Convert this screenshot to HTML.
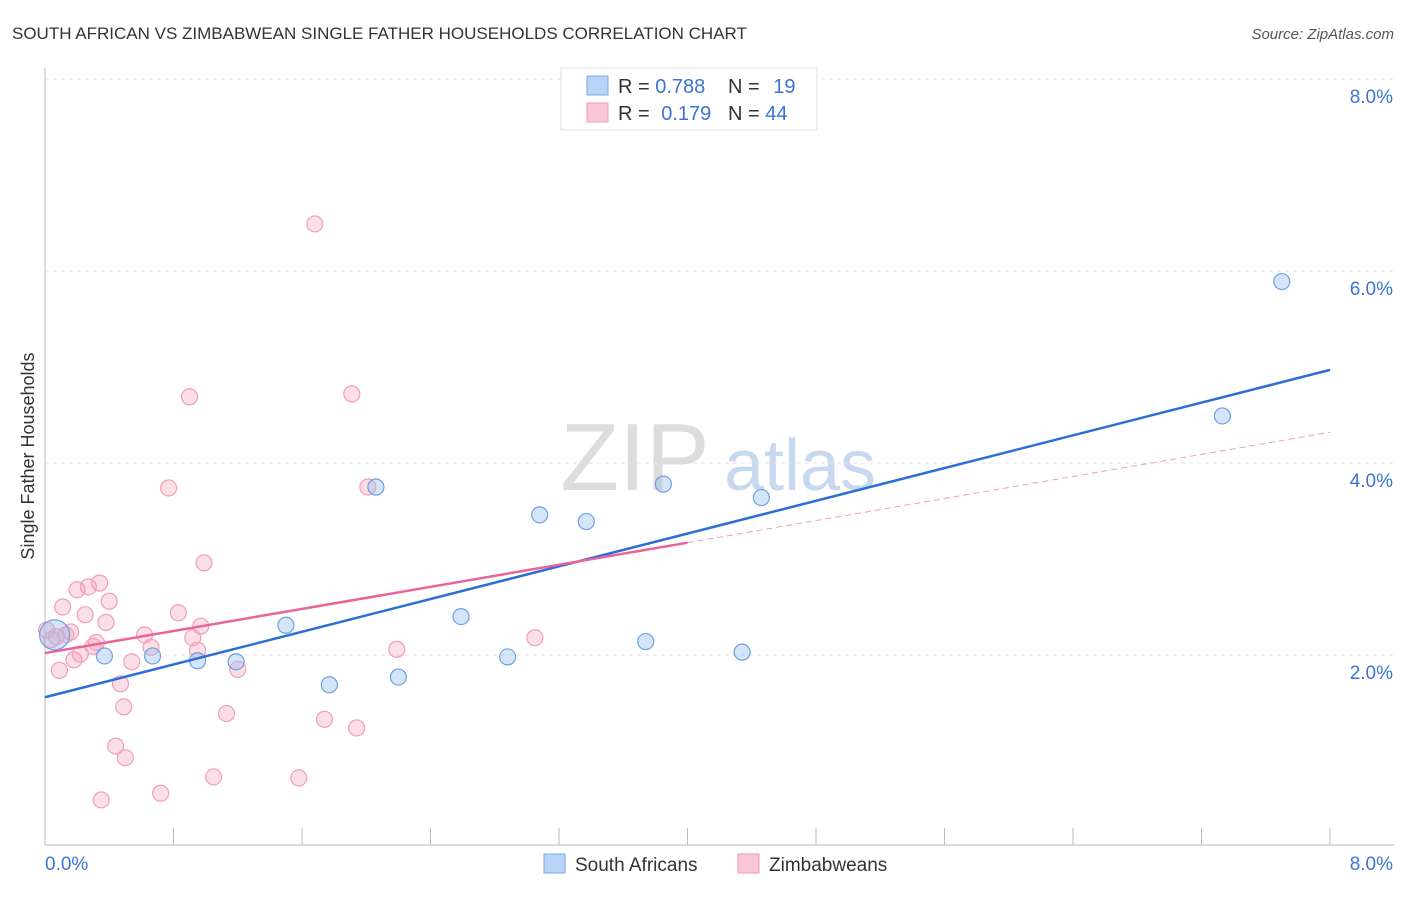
<!DOCTYPE html>
<html><head><meta charset="utf-8"><style>
body{margin:0;background:#fff;font-family:"Liberation Sans",sans-serif}
svg text{font-family:"Liberation Sans",sans-serif}
</style></head><body>
<svg id="c" width="1406" height="892">
<text x="12" y="39" font-size="17" fill="#333">SOUTH AFRICAN VS ZIMBABWEAN SINGLE FATHER HOUSEHOLDS CORRELATION CHART</text>
<text x="1394" y="39" font-size="15" fill="#555" text-anchor="end" font-style="italic">Source: ZipAtlas.com</text>
<text x="635" y="490" font-size="96" fill="#ddd" font-family="Liberation Serif" text-anchor="middle">ZIP</text>
<text x="800" y="490" font-size="72" fill="#c8d8ee" text-anchor="middle">atlas</text>
<text transform="translate(34,456) rotate(-90)" font-size="18" fill="#333" text-anchor="middle">Single Father Households</text>
<g id="grid"></g><g id="pts"></g><g id="lines"></g>
<g>
<rect x="561" y="68" width="256" height="62" fill="#fff" stroke="#ddd"/>
<rect x="587" y="76" width="21" height="19" fill="#b8d3f5" stroke="#7aa8e8"/>
<rect x="587" y="103" width="21" height="19" fill="#f9c8d6" stroke="#ef9ab3"/>
<text x="618" y="93" font-size="20" fill="#333">R = <tspan fill="#3a74d6">0.788</tspan></text>
<text x="728" y="93" font-size="20" fill="#333">N = <tspan fill="#3a74d6" dx="8">19</tspan></text>
<text x="618" y="120" font-size="20" fill="#333">R = <tspan fill="#3a74d6" dx="6">0.179</tspan></text>
<text x="728" y="120" font-size="20" fill="#333">N = <tspan fill="#3a74d6">44</tspan></text>
</g>
<g>
<rect x="544" y="854" width="21" height="19" fill="#b8d3f5" stroke="#7aa8e8"/>
<text x="575" y="871" font-size="19" fill="#333">South Africans</text>
<rect x="738" y="854" width="21" height="19" fill="#f9c8d6" stroke="#ef9ab3"/>
<text x="769" y="871" font-size="19" fill="#333">Zimbabweans</text>
</g>
</svg>
<script>
const yTicks=[2,4,6,8];
const xTickLabels=["0.0%","8.0%"];
const blueX=[0.06,0.37,0.67,0.95,1.19,1.50,1.77,2.06,2.20,2.59,2.88,3.08,3.37,3.74,3.85,4.34,4.46,7.33,7.70];
const blueY=[2.21,1.99,1.99,1.94,1.93,2.31,1.69,3.75,1.77,2.40,1.98,3.46,3.39,2.14,3.78,2.03,3.64,4.49,5.89];
const pinkX=[0.04,0.01,0.09,0.11,0.20,0.27,0.34,0.40,0.25,0.38,0.16,0.32,0.30,0.22,0.47,0.49,0.44,0.50,0.54,0.35,0.62,0.66,0.72,0.77,0.83,0.90,0.92,0.95,0.97,0.99,1.13,1.05,1.20,1.58,1.68,1.74,1.91,1.94,2.01,2.19,3.05,0.07,0.13,0.18];
const pinkY=[2.16,2.26,1.84,2.50,2.68,2.71,2.75,2.56,2.42,2.34,2.24,2.13,2.09,2.01,1.70,1.46,1.05,0.93,1.93,0.49,2.21,2.08,0.56,3.74,2.44,4.69,2.18,2.05,2.30,2.96,1.39,0.73,1.85,0.72,6.49,1.33,4.72,1.24,3.75,2.06,2.18,2.19,2.21,1.95];
const blueLine=[1.56,4.97];   // y at x=0 and x=8
const pinkLine=[2.02,4.32];   // y at x=0 and x=8
const pinkSolidEnd=4.0;
const NS="http://www.w3.org/2000/svg";
const X=v=>45+v/8*1285, Y=v=>847-v/2*192;
function mk(t,a,p){const e=document.createElementNS(NS,t);for(const k in a)e.setAttribute(k,a[k]);p.appendChild(e);return e;}
const grid=document.getElementById('grid'),pts=document.getElementById('pts'),lines=document.getElementById('lines');
yTicks.forEach(t=>{
 const l=mk('line',{x1:45,x2:1394,y1:Y(t),y2:Y(t),stroke:'#e2e2e2','stroke-dasharray':'4,4'},grid);
 
 
 const tx=mk('text',{x:1393,y:Y(t)+24,'font-size':19,fill:'#3a74d6','text-anchor':'end'},grid);
 tx.textContent=t.toFixed(1)+'%';
 
 
});
const ax=mk('line',{x1:45,x2:45,y1:68,y2:845,stroke:'#bbb'},grid);


const bx=mk('line',{x1:45,x2:1394,y1:845,y2:845,stroke:'#bbb'},grid);


for(let i=0;i<=10;i++){const tk=mk('line',{x1:X(i*0.8),x2:X(i*0.8),y1:828,y2:845,stroke:'#bbb'},grid);
 
 }
xTickLabels.forEach((s,i)=>{const t=mk('text',{x:i?1393:45,y:870,'font-size':19,fill:'#3a74d6','text-anchor':i?'end':'start'},grid);t.textContent=s;
 
 });
pinkX.forEach((x,i)=>{const c=mk('circle',{cx:X(x),cy:Y(pinkY[i]),r:8,fill:'rgba(245,160,185,0.35)',stroke:'#eea0b8','stroke-width':1.2},pts);
 
 });
blueX.forEach((x,i)=>{const c=mk('circle',{cx:X(x),cy:Y(blueY[i]),r:i==0?15:8,fill:'rgba(150,190,240,0.4)',stroke:'#6f9fe0','stroke-width':1.2},pts);
 
 });
const bl=mk('line',{x1:X(0),y1:Y(blueLine[0]),x2:X(8),y2:Y(blueLine[1]),stroke:'#2b6fd6','stroke-width':2.5},lines);


const pm=pinkLine[0]+(pinkLine[1]-pinkLine[0])*pinkSolidEnd/8;
const pl=mk('line',{x1:X(0),y1:Y(pinkLine[0]),x2:X(pinkSolidEnd),y2:Y(pm),stroke:'#e8649a','stroke-width':2.5},lines);


const pd=mk('line',{x1:X(pinkSolidEnd),y1:Y(pm),x2:X(8),y2:Y(pinkLine[1]),stroke:'#e8a0bb','stroke-width':1,'stroke-dasharray':'6,4'},lines);


</script>
</body></html>
